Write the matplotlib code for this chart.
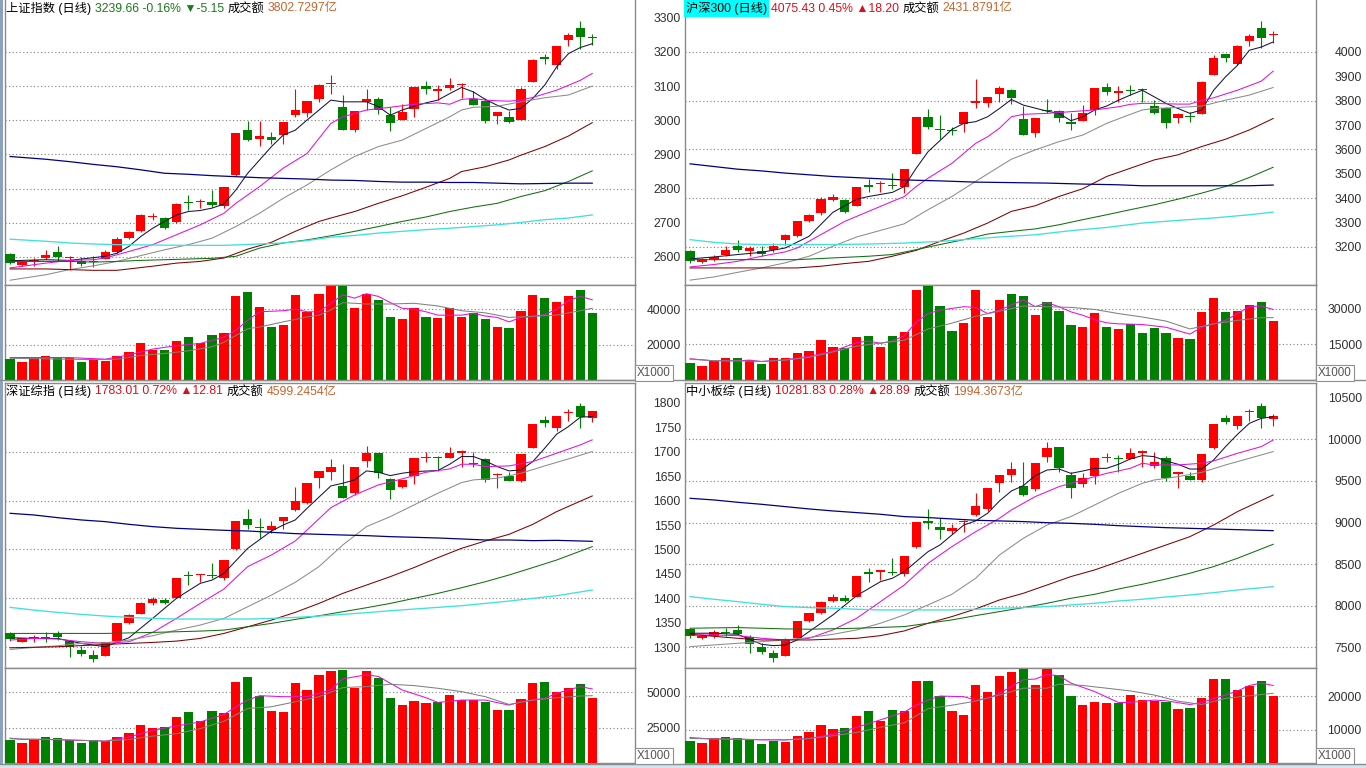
import matplotlib.pyplot as plt
import numpy as np
from matplotlib.lines import Line2D
from matplotlib.patches import Rectangle

W, H = 1366, 768
RED = '#ff0000'
GREEN = '#008000'
TXT_RED = '#d8101c'
TXT_GREEN = '#1a7a1a'
TXT_ORANGE = '#c8642c'
FONT = ['Liberation Sans', 'Noto Sans CJK SC', 'DejaVu Sans']

# ---------------- 上证指数 ----------------
sh_open = [2609, 2577, 2588, 2597, 2616, 2597, 2589, 2586, 2595, 2616,
           2657, 2677, 2717, 2714, 2702, 2762, 2760, 2761, 2750, 2841,
           2971, 2944, 2951, 2956, 3015, 3021, 3061, 3106, 3038, 2971,
           3053, 3062, 3015, 3001, 3032, 3100, 3087, 3095, 3103, 3061,
           3057, 3014, 3010, 3001, 3112, 3184, 3161, 3236, 3271, 3243]
sh_close = [2582, 2585, 2590, 2605, 2599, 2600, 2579, 2588, 2616, 2654,
            2673, 2723, 2720, 2684, 2755, 2757, 2762, 2753, 2805, 2962,
            2942, 2954, 2942, 2995, 3030, 3056, 3103, 3108, 2973, 3027,
            3061, 3030, 2993, 3023, 3096, 3093, 3091, 3102, 3105, 3044,
            2999, 3023, 2996, 3092, 3176, 3180, 3217, 3251, 3244.8, 3239.66]
sh_high = [2612, 2589, 2598, 2619, 2631, 2602, 2600, 2603, 2621, 2657,
           2676, 2727, 2728, 2718, 2757, 2782, 2769, 2796, 2806, 2962,
           2999, 2999, 2967, 2995, 3092, 3056, 3106, 3132, 3074, 3027,
           3093, 3067, 3038, 3047, 3096, 3114, 3103, 3125, 3110, 3086,
           3064, 3023, 3028, 3096, 3178, 3195, 3217, 3254, 3290, 3252]
sh_low = [2578, 2573, 2573, 2594, 2587, 2561, 2573, 2570, 2594, 2613,
          2654, 2673, 2709, 2681, 2700, 2738, 2743, 2746, 2743, 2838,
          2939, 2926, 2931, 2931, 3010, 3010, 3054, 3076, 2973, 2967,
          3030, 3018, 2969, 3001, 3010, 3076, 3059, 3090, 3064, 3044,
          2991, 2989, 2993, 3001, 3112, 3166, 3151, 3218, 3210, 3219]
sh_vol = [12100, 10400, 12300, 13500, 12700, 12700, 10200, 12100, 10800, 13700,
          15600, 20700, 17100, 17100, 22300, 24600, 20700, 25200, 26500, 47300,
          49600, 41500, 30000, 31300, 48200, 38300, 48800, 53000, 53000, 40700,
          48800, 45400, 35700, 34400, 40600, 35700, 35200, 40600, 35700, 38000,
          34400, 29800, 29200, 39000, 48200, 46500, 44200, 47700, 51100, 37900]
sh_ma5 = [(0, 2589), (3, 2592), (5, 2590), (8, 2602), (9, 2611), (10, 2631), (11, 2660),
          (12, 2684), (13, 2704), (14, 2723), (15, 2733), (16, 2736), (17, 2743), (18, 2755),
          (19, 2796), (20, 2845), (21, 2884), (22, 2923), (23, 2957), (24, 2971), (25, 3001),
          (26, 3030), (27, 3059), (28, 3054), (30, 3054), (31, 3040), (32, 3015), (33, 3030),
          (34, 3041), (35, 3051), (36, 3059), (37, 3078), (38, 3096), (39, 3083), (40, 3061),
          (41, 3044), (42, 3030), (43, 3035), (44, 3064), (45, 3103), (46, 3156), (47, 3195),
          (48, 3213), (49, 3224)]
sh_ma10 = [(0, 2568), (3, 2582), (5, 2590), (7, 2592), (8, 2597), (10, 2616), (12, 2636),
           (14, 2665), (16, 2694), (18, 2728), (19, 2757), (21, 2806), (23, 2860), (25, 2903),
           (27, 2991), (28, 3010), (30, 3030), (32, 3038), (34, 3047), (36, 3051), (37, 3047),
           (38, 3061), (39, 3064), (40, 3059), (41, 3057), (42, 3056), (43, 3059), (44, 3067),
           (46, 3088), (48, 3117), (49, 3137)]
sh_ma20 = [(0, 2532), (3, 2548), (5, 2563), (7, 2574), (9, 2587), (11, 2604), (13, 2621),
           (15, 2636), (17, 2655), (19, 2689), (21, 2728), (23, 2772), (25, 2811), (27, 2855),
           (29, 2894), (31, 2923), (33, 2942), (35, 2976), (37, 3010), (38, 3030), (39, 3038),
           (41, 3041), (43, 3054), (45, 3066), (47, 3074), (49, 3100)]
sh_ma60 = [(0, 2565), (3, 2565), (5, 2563), (7, 2561), (9, 2561), (10, 2565), (12, 2573),
           (14, 2582), (16, 2587), (18, 2597), (20, 2623), (22, 2643), (24, 2675), (26, 2704),
           (27, 2714), (29, 2733), (31, 2757), (33, 2779), (35, 2804), (37, 2830), (38, 2850),
           (40, 2864), (42, 2884), (43, 2898), (45, 2923), (47, 2954), (49, 2993)]
sh_ma120 = [(0, 2587), (5, 2587), (7, 2585), (9, 2587), (11, 2590), (13, 2592), (15, 2594),
            (17, 2596), (19, 2602), (21, 2626), (23, 2641), (25, 2650), (27, 2662), (29, 2675),
            (31, 2689), (33, 2704), (35, 2717), (37, 2733), (39, 2746), (41, 2757), (43, 2777),
            (45, 2794), (47, 2821), (49, 2852)]
sh_ma250 = [(0, 2894), (3, 2886), (5, 2879), (7, 2871), (9, 2864), (11, 2855), (13, 2845),
            (15, 2842), (17, 2838), (19, 2835), (21, 2832), (23, 2830), (25, 2828), (27, 2825),
            (29, 2824), (31, 2821), (33, 2819), (35, 2819), (37, 2818), (39, 2818), (41, 2816),
            (43, 2814), (45, 2815), (47, 2816), (49, 2816)]
sh_ma_cyan = [(0, 2652), (3, 2646), (5, 2641), (7, 2638), (9, 2636), (12, 2635), (15, 2634),
              (18, 2634), (21, 2638), (23, 2641), (25, 2648), (27, 2658), (29, 2663), (31, 2670),
              (33, 2675), (35, 2680), (37, 2684), (39, 2689), (41, 2694), (43, 2701), (45, 2709),
              (47, 2714), (49, 2723)]
sh_vma5 = [(0, 12700), (5, 12700), (8, 11760), (10, 14200), (12, 17500), (14, 19400),
           (16, 20700), (18, 24200), (19, 28100), (20, 33800), (21, 38600), (23, 39200),
           (24, 40100), (25, 38600), (26, 38600), (27, 43400), (28, 48200), (29, 46300),
           (30, 48800), (31, 47300), (32, 43800), (33, 40600), (34, 40000), (35, 38600),
           (36, 36700), (38, 36700), (39, 37700), (40, 36200), (41, 35400), (42, 32900),
           (43, 35400), (44, 35700), (45, 37100), (46, 40000), (47, 44900), (48, 47300),
           (49, 45400)]
sh_vma10 = [(0, 12300), (7, 11530), (9, 11760), (11, 13900), (13, 15000), (15, 16500),
            (17, 18800), (18, 21300), (19, 25200), (20, 29000), (21, 30000), (23, 32900),
            (25, 35700), (26, 36700), (27, 39600), (28, 43800), (30, 43000), (32, 43000),
            (34, 43400), (36, 41900), (38, 39200), (40, 38000), (42, 35400), (44, 36100),
            (46, 36700), (48, 39200), (49, 40600)]

# ---------------- 沪深300 ----------------
hs_open = [3185, 3137, 3148, 3169, 3206, 3182, 3185, 3186, 3227, 3244,
           3305, 3339, 3394, 3394, 3370, 3455, 3460, 3453, 3448, 3580,
           3734, 3684, 3679, 3703, 3789, 3789, 3827, 3843, 3723, 3669,
           3760, 3757, 3714, 3718, 3762, 3857, 3830, 3842, 3846, 3778,
           3768, 3730, 3736, 3744, 3907, 3990, 3950, 4045, 4099, 4069]
hs_close = [3144, 3151, 3159, 3186, 3186, 3197, 3171, 3206, 3249, 3308,
            3332, 3398, 3406, 3342, 3445, 3445, 3462, 3450, 3519, 3732,
            3691, 3681, 3676, 3752, 3800, 3816, 3850, 3813, 3661, 3731,
            3757, 3727, 3704, 3748, 3854, 3836, 3840, 3839, 3843, 3748,
            3707, 3745, 3734, 3877, 3977, 3975, 4023, 4064, 4057.2, 4075.43]
hs_high = [3189, 3155, 3169, 3203, 3227, 3203, 3203, 3216, 3252, 3308,
           3336, 3404, 3417, 3398, 3445, 3478, 3469, 3503, 3519, 3732,
           3764, 3741, 3693, 3752, 3887, 3816, 3860, 3846, 3778, 3731,
           3805, 3762, 3748, 3782, 3854, 3871, 3860, 3864, 3854, 3802,
           3775, 3748, 3755, 3881, 3986, 3993, 4027, 4075, 4125, 4086]
hs_low = [3135, 3135, 3141, 3165, 3178, 3162, 3165, 3178, 3210, 3240,
          3301, 3332, 3390, 3339, 3370, 3424, 3424, 3437, 3421, 3580,
          3682, 3642, 3659, 3673, 3768, 3775, 3796, 3786, 3661, 3652,
          3748, 3714, 3680, 3718, 3741, 3823, 3796, 3823, 3796, 3745,
          3689, 3707, 3714, 3744, 3907, 3959, 3945, 4023, 4018, 4037]
hs_vol = [7350, 6060, 8080, 9090, 9370, 8220, 6920, 9370, 9230, 11390,
          12110, 16870, 13840, 13550, 18170, 18600, 13990, 18600, 20330, 38070,
          39510, 31150, 20760, 23940, 38070, 26530, 33740, 36340, 35470, 27250,
          33020, 28980, 23360, 22500, 28120, 22500, 21630, 23650, 19900, 21920,
          19900, 17740, 17300, 28700, 34610, 28550, 28980, 31720, 32880, 24660]
hs_ma5 = [(0, 3151), (2, 3159), (4, 3169), (6, 3178), (8, 3196), (10, 3244), (12, 3342),
          (14, 3396), (15, 3407), (17, 3424), (18, 3448), (19, 3523), (20, 3591), (22, 3682),
          (23, 3707), (24, 3714), (25, 3734), (26, 3768), (27, 3805), (28, 3782), (30, 3757),
          (31, 3748), (32, 3718), (33, 3734), (34, 3762), (35, 3778), (36, 3802), (37, 3823),
          (38, 3843), (39, 3816), (40, 3789), (41, 3768), (42, 3748), (43, 3762), (44, 3843),
          (45, 3898), (46, 3945), (47, 4007), (48, 4020), (49, 4041)]
hs_ma10 = [(0, 3118), (2, 3128), (4, 3141), (6, 3162), (8, 3180), (9, 3196), (11, 3251),
           (13, 3305), (15, 3346), (17, 3387), (18, 3407), (19, 3448), (20, 3482), (22, 3543),
           (23, 3584), (24, 3625), (25, 3652), (26, 3687), (27, 3734), (28, 3744), (30, 3748),
           (32, 3755), (34, 3762), (36, 3775), (37, 3785), (38, 3789), (39, 3789), (41, 3786),
           (42, 3786), (43, 3802), (44, 3812), (46, 3843), (48, 3880), (49, 3921)]
hs_ma20 = [(0, 3064), (2, 3077), (4, 3096), (6, 3114), (8, 3135), (10, 3162), (12, 3203),
           (14, 3241), (16, 3268), (18, 3295), (20, 3353), (22, 3407), (24, 3469), (26, 3530),
           (27, 3560), (29, 3598), (31, 3632), (33, 3659), (35, 3707), (37, 3744), (38, 3762),
           (39, 3768), (41, 3772), (43, 3778), (45, 3802), (47, 3823), (49, 3854)]
hs_ma60 = [(0, 3114), (9, 3114), (11, 3121), (13, 3132), (15, 3141), (17, 3162), (19, 3186),
           (21, 3223), (23, 3257), (25, 3298), (27, 3346), (29, 3369), (31, 3407), (33, 3439),
           (35, 3489), (37, 3523), (39, 3557), (41, 3578), (43, 3612), (45, 3642), (47, 3680),
           (49, 3727)]
hs_ma120 = [(0, 3148), (9, 3148), (12, 3155), (15, 3162), (17, 3169), (19, 3189), (21, 3210),
            (23, 3230), (25, 3253), (27, 3264), (29, 3274), (31, 3291), (33, 3312), (35, 3332),
            (37, 3353), (39, 3373), (41, 3396), (43, 3421), (45, 3448), (47, 3485), (49, 3527)]
hs_ma250 = [(0, 3541), (2, 3530), (4, 3519), (6, 3512), (8, 3503), (10, 3496), (12, 3489),
            (15, 3482), (18, 3475), (21, 3471), (24, 3466), (27, 3464), (30, 3462), (33, 3458),
            (36, 3455), (38, 3451), (41, 3451), (44, 3451), (47, 3451), (49, 3454)]
hs_ma_cyan = [(0, 3230), (2, 3219), (4, 3212), (6, 3210), (12, 3210), (15, 3212), (18, 3216),
              (21, 3223), (23, 3230), (26, 3241), (29, 3250), (32, 3267), (35, 3280), (38, 3298),
              (41, 3309), (44, 3319), (47, 3332), (49, 3343)]
hs_vma5 = [(0, 8940), (2, 8080), (4, 8080), (5, 8370), (6, 7790), (8, 8510), (10, 9950),
           (12, 12110), (14, 15720), (15, 16440), (16, 15430), (17, 16440), (18, 18600),
           (19, 24370), (20, 27970), (21, 29420), (23, 30860), (24, 30570), (25, 27970),
           (26, 29420), (28, 33740), (29, 30860), (30, 32590), (31, 30860), (32, 28700),
           (33, 27250), (34, 25380), (35, 24080), (36, 23650), (38, 23360), (40, 22210),
           (42, 19320), (43, 22210), (45, 25090), (46, 27970), (47, 30860), (48, 31150),
           (49, 29700)]
hs_vma10 = [(0, 8800), (2, 8080), (4, 8080), (6, 7790), (8, 8370), (10, 9520), (12, 11820),
            (14, 14280), (16, 15570), (18, 16730), (20, 21490), (22, 23940), (24, 26820),
            (26, 28980), (28, 31150), (30, 30860), (32, 30570), (34, 29700), (36, 27970),
            (38, 26530), (40, 24800), (42, 21490), (44, 23650), (46, 25090), (48, 26240),
            (49, 26240)]

# ---------------- 深证综指 ----------------
sz_open = [1328.6, 1311.6, 1318.4, 1321.8, 1326.6, 1313.6, 1294.5, 1284.3, 1282.9, 1313.0,
           1350.4, 1368.9, 1390.6, 1396.1, 1401.5, 1448.5, 1447.9, 1447.9, 1441.0, 1501.0,
           1561.7, 1546.7, 1540.5, 1558.9, 1580.7, 1594.4, 1645.5, 1659.1, 1630.5, 1614.8,
           1680.9, 1696.6, 1643.4, 1628.4, 1650.9, 1687.7, 1687.7, 1687.7, 1698.0, 1674.1,
           1685.0, 1652.3, 1650.9, 1640.0, 1708.2, 1764.7, 1749.0, 1778.4, 1793.4, 1769.5]
sz_close = [1316.4, 1318.4, 1320.4, 1319.8, 1320.4, 1301.4, 1285.7, 1276.1, 1310.2, 1349.7,
            1366.0, 1389.9, 1398.0, 1390.6, 1441.0, 1445.1, 1449.9, 1445.8, 1477.8, 1558.3,
            1550.1, 1543.3, 1547.4, 1565.7, 1599.1, 1635.3, 1660.5, 1669.3, 1606.0, 1669.3,
            1696.6, 1655.7, 1621.6, 1642.1, 1686.4, 1689.8, 1686.4, 1696.6, 1701.4, 1676.1,
            1642.1, 1654.3, 1640.7, 1694.5, 1755.9, 1759.3, 1772.9, 1781.8, 1770.2, 1783.01]
sz_high = [1330.7, 1319.8, 1325.0, 1330.7, 1334.0, 1315.0, 1303.4, 1293.9, 1310.2, 1349.7,
           1367.5, 1392.0, 1403.6, 1400.2, 1441.0, 1456.7, 1449.9, 1471.7, 1477.8, 1558.3,
           1582.1, 1563.7, 1558.3, 1565.7, 1628.4, 1635.3, 1660.5, 1685.0, 1674.1, 1669.3,
           1711.6, 1696.6, 1645.5, 1642.1, 1686.4, 1698.6, 1690.0, 1710.2, 1703.4, 1700.0,
           1687.7, 1655.7, 1657.7, 1694.5, 1755.9, 1771.6, 1772.9, 1786.5, 1798.8, 1783.1]
sz_low = [1313.0, 1310.2, 1311.6, 1311.6, 1315.0, 1281.0, 1283.0, 1269.4, 1282.9, 1311.6,
          1347.0, 1367.5, 1386.5, 1388.6, 1401.5, 1427.4, 1432.9, 1441.0, 1437.6, 1499.0,
          1541.9, 1524.2, 1533.0, 1541.9, 1578.7, 1592.3, 1626.4, 1642.0, 1606.0, 1611.4,
          1669.3, 1646.9, 1603.2, 1625.0, 1633.2, 1678.2, 1660.5, 1686.4, 1669.3, 1669.3,
          1637.3, 1625.0, 1640.7, 1637.3, 1708.2, 1751.1, 1742.2, 1762.7, 1749.0, 1760.0]
sz_vol = [15950, 14050, 15950, 18330, 17620, 16430, 14050, 16430, 15710, 18330,
          20950, 26670, 24760, 25240, 32620, 36190, 29520, 36670, 35710, 57620,
          60950, 47620, 36900, 36190, 56900, 51670, 62380, 64760, 65950, 53330,
          65240, 60480, 46190, 40950, 44050, 42380, 43330, 48100, 44760, 44760,
          43100, 37380, 37380, 45240, 56670, 57620, 50000, 52860, 55950, 45950]
sz_ma5 = [(0, 1319.8), (2, 1318.4), (4, 1318.4), (6, 1308.2), (8, 1301.4), (10, 1319.8),
          (12, 1359.3), (14, 1400.2), (16, 1430.8), (17, 1437.6), (18, 1451.3), (20, 1502.4),
          (22, 1537.8), (23, 1550.1), (24, 1560.3), (25, 1584.2), (27, 1629.8), (28, 1635.3),
          (29, 1642.1), (30, 1660.5), (31, 1657.7), (32, 1650.9), (33, 1655.7), (34, 1659.1),
          (36, 1661.2), (37, 1674.1), (38, 1689.8), (39, 1689.8), (40, 1680.9), (41, 1669.3),
          (42, 1660.5), (43, 1662.5), (44, 1679.6), (45, 1706.8), (46, 1735.4), (47, 1751.1),
          (48, 1770.2), (49, 1771.6)]
sz_ma10 = [(0, 1315.0), (2, 1318.4), (4, 1317.0), (6, 1311.6), (8, 1308.2), (10, 1311.6),
           (12, 1330.7), (14, 1359.3), (16, 1389.9), (18, 1419.3), (20, 1465.1), (22, 1488.8),
           (24, 1517.4), (25, 1539.9), (27, 1585.5), (29, 1611.4), (31, 1631.9), (33, 1644.1),
           (35, 1657.7), (37, 1664.6), (38, 1674.1), (39, 1674.1), (40, 1669.3), (42, 1670.7),
           (44, 1679.6), (46, 1696.6), (48, 1713.6), (49, 1723.9)]
sz_ma20 = [(0, 1295.9), (2, 1300.0), (4, 1303.4), (6, 1308.2), (8, 1309.5), (10, 1315.0),
           (12, 1323.9), (14, 1335.4), (16, 1345.7), (18, 1359.3), (20, 1383.1), (22, 1406.9),
           (24, 1432.9), (26, 1465.1), (28, 1509.2), (30, 1546.7), (32, 1567.1), (34, 1591.0),
           (36, 1614.8), (38, 1636.6), (39, 1642.1), (41, 1645.5), (43, 1655.7), (45, 1670.7),
           (47, 1685.0), (49, 1700.0)]
sz_ma60 = [(0, 1299.3), (4, 1301.4), (8, 1306.1), (10, 1308.2), (12, 1310.2), (14, 1312.9),
           (16, 1318.4), (18, 1328.6), (20, 1342.2), (22, 1355.9), (24, 1371.6), (26, 1389.9),
           (28, 1410.4), (30, 1427.4), (32, 1444.5), (34, 1463.1), (36, 1483.3), (38, 1502.4),
           (40, 1517.4), (42, 1531.0), (44, 1551.4), (46, 1577.3), (49, 1609.4)]
sz_ma120 = [(0, 1328.6), (8, 1328.6), (12, 1330.7), (14, 1332.0), (16, 1333.4), (18, 1335.4),
            (20, 1342.2), (22, 1349.1), (24, 1357.2), (26, 1364.7), (28, 1372.9), (30, 1381.1),
            (32, 1389.9), (34, 1400.2), (36, 1410.4), (38, 1421.9), (40, 1434.2), (42, 1447.9),
            (44, 1463.1), (46, 1478.5), (49, 1505.8)]
sz_ma250 = [(0, 1573.9), (2, 1570.5), (4, 1565.0), (6, 1560.3), (8, 1556.9), (10, 1551.4),
            (12, 1546.7), (14, 1543.3), (16, 1541.2), (18, 1539.2), (20, 1537.8), (22, 1535.1),
            (24, 1532.4), (26, 1531.0), (28, 1529.6), (30, 1528.3), (32, 1526.2), (34, 1524.9),
            (36, 1523.5), (38, 1521.5), (40, 1519.4), (42, 1519.4), (44, 1518.1), (46, 1518.7),
            (49, 1516.7)]
sz_ma_cyan = [(0, 1381.8), (2, 1376.3), (4, 1371.6), (6, 1367.5), (8, 1364.1), (10, 1361.3),
              (12, 1359.3), (14, 1358.0), (20, 1358.0), (22, 1359.3), (24, 1361.3), (26, 1364.1),
              (28, 1367.5), (30, 1370.9), (32, 1375.0), (34, 1378.4), (36, 1381.8), (38, 1385.2),
              (40, 1389.9), (42, 1394.7), (44, 1400.2), (46, 1405.6), (49, 1417.2)]
sz_vma5 = [(0, 17620), (1, 16670), (2, 16670), (4, 16430), (6, 15950), (8, 15480), (10, 18330),
           (12, 23100), (14, 26190), (16, 29050), (18, 34290), (19, 39760), (20, 44520),
           (21, 47620), (23, 46900), (25, 46900), (27, 51670), (28, 59520), (30, 62380),
           (31, 61190), (32, 56430), (33, 51670), (35, 46190), (36, 42860), (38, 44520),
           (40, 44520), (42, 40950), (43, 43330), (45, 45710), (46, 49290), (47, 51670),
           (48, 54050), (49, 52380)]
sz_vma10 = [(0, 17140), (4, 16670), (8, 15480), (10, 16670), (12, 19050), (14, 20710),
            (16, 24290), (18, 29520), (20, 38570), (22, 39760), (24, 43330), (26, 46900),
            (28, 53330), (30, 54050), (32, 55710), (34, 54760), (36, 52860), (38, 50480),
            (40, 46900), (42, 41430), (44, 44520), (46, 46190), (48, 47380), (49, 47620)]

# ---------------- 中小板综 ----------------
zx_open = [7721, 7608, 7640, 7689, 7709, 7628, 7504, 7428, 7400, 7616,
           7817, 7909, 8057, 8089, 8109, 8402, 8410, 8410, 8378, 8710,
           9019, 8950, 8898, 9003, 9091, 9163, 9471, 9571, 9439, 9403,
           9792, 9904, 9571, 9459, 9563, 9780, 9780, 9764, 9832, 9684,
           9780, 9587, 9563, 9511, 9892, 10252, 10164, 10324, 10405, 10240]
zx_close = [7641, 7640, 7681, 7669, 7656, 7544, 7440, 7368, 7600, 7817,
            7909, 8049, 8109, 8057, 8362, 8382, 8430, 8398, 8598, 9011,
            8990, 8910, 8938, 9019, 9203, 9411, 9571, 9643, 9331, 9712,
            9900, 9660, 9411, 9531, 9772, 9792, 9764, 9832, 9864, 9724,
            9531, 9603, 9511, 9820, 10180, 10212, 10284, 10340, 10253, 10281.83]
zx_high = [7737, 7656, 7705, 7729, 7769, 7648, 7548, 7468, 7608, 7817,
           7917, 8057, 8137, 8129, 8362, 8458, 8430, 8570, 8598, 9011,
           9163, 9051, 8978, 9031, 9351, 9411, 9571, 9724, 9724, 9712,
           9972, 9904, 9611, 9591, 9772, 9840, 9812, 9900, 9872, 9852,
           9804, 9603, 9603, 9820, 10180, 10292, 10284, 10364, 10433, 10300]
zx_low = [7608, 7600, 7608, 7640, 7648, 7428, 7416, 7320, 7400, 7600,
          7809, 7897, 8041, 8049, 8109, 8289, 8310, 8370, 8362, 8698,
          8922, 8802, 8858, 8890, 9083, 9139, 9363, 9491, 9323, 9379,
          9724, 9611, 9299, 9431, 9459, 9724, 9603, 9764, 9671, 9651,
          9499, 9419, 9511, 9483, 9884, 10180, 10124, 10220, 10140, 10164]
zx_vol = [6630, 6120, 7550, 7850, 7550, 7040, 5810, 6730, 6430, 7960,
          9180, 11530, 10100, 10610, 14080, 15500, 12750, 15810, 15500, 24480,
          24480, 19990, 15500, 14280, 23260, 21420, 26210, 27230, 28150, 23260,
          28150, 26520, 19990, 17340, 18260, 17950, 17950, 20400, 18870, 18560,
          18260, 16120, 16520, 19480, 25300, 25300, 21930, 23150, 24680, 20090]
zx_ma5 = [(0, 7669), (2, 7669), (4, 7656), (6, 7536), (7, 7520), (8, 7528), (9, 7588),
          (10, 7689), (12, 7889), (14, 8121), (16, 8289), (17, 8330), (18, 8410), (19, 8530),
          (20, 8650), (21, 8730), (23, 8970), (24, 9019), (25, 9111), (26, 9259), (27, 9379),
          (28, 9443), (29, 9563), (30, 9631), (31, 9643), (32, 9591), (33, 9619), (34, 9651),
          (35, 9651), (36, 9700), (37, 9764), (38, 9804), (39, 9792), (40, 9740), (41, 9700),
          (42, 9643), (43, 9643), (44, 9752), (45, 9912), (46, 10060), (47, 10192),
          (48, 10252), (49, 10272)]
zx_ma10 = [(0, 7648), (2, 7648), (4, 7640), (6, 7608), (8, 7588), (10, 7608), (12, 7709),
           (14, 7849), (16, 8049), (18, 8249), (20, 8510), (22, 8710), (24, 8890), (26, 9051),
           (27, 9151), (29, 9311), (31, 9431), (33, 9511), (35, 9591), (37, 9651), (38, 9712),
           (39, 9692), (41, 9692), (43, 9712), (44, 9740), (46, 9832), (48, 9912), (49, 9992)]
zx_ma20 = [(0, 7508), (2, 7528), (4, 7548), (6, 7568), (8, 7588), (10, 7617), (12, 7656),
           (14, 7709), (16, 7789), (18, 7889), (20, 8009), (22, 8137), (24, 8330), (26, 8610),
           (28, 8810), (30, 8970), (32, 9071), (34, 9211), (36, 9351), (38, 9471), (39, 9511),
           (41, 9551), (43, 9603), (45, 9692), (47, 9772), (49, 9852)]
zx_ma60 = [(0, 7656), (4, 7608), (6, 7588), (10, 7588), (14, 7608), (16, 7640), (18, 7697),
           (20, 7789), (22, 7869), (24, 7961), (26, 8069), (28, 8149), (30, 8249), (32, 8350),
           (34, 8430), (36, 8530), (38, 8630), (40, 8730), (42, 8830), (44, 8970), (46, 9131),
           (49, 9331)]
zx_ma120 = [(0, 7729), (4, 7737), (6, 7729), (8, 7721), (10, 7717), (14, 7729), (18, 7749),
            (20, 7789), (22, 7829), (24, 7881), (26, 7929), (28, 7977), (30, 8029), (32, 8089),
            (34, 8137), (36, 8201), (38, 8257), (40, 8321), (42, 8390), (44, 8470), (46, 8570),
            (49, 8738)]
zx_ma250 = [(0, 9291), (2, 9271), (4, 9243), (6, 9219), (8, 9191), (10, 9163), (12, 9139),
            (14, 9119), (16, 9099), (18, 9071), (20, 9059), (22, 9043), (24, 9027), (26, 9019),
            (28, 9011), (30, 8998), (32, 8990), (34, 8978), (36, 8962), (38, 8950), (40, 8938),
            (42, 8930), (44, 8922), (46, 8914), (49, 8902)]
zx_ma_cyan = [(0, 8109), (2, 8077), (4, 8049), (6, 8017), (8, 7989), (10, 7977), (12, 7969),
              (14, 7957), (16, 7949), (22, 7949), (24, 7957), (26, 7969), (28, 7977), (30, 7989),
              (32, 8009), (34, 8029), (36, 8057), (38, 8077), (40, 8105), (42, 8129), (44, 8157),
              (46, 8189), (49, 8229)]
zx_vma5 = [(0, 7650), (2, 7140), (4, 7140), (6, 6940), (8, 6940), (10, 7340), (12, 8670),
           (14, 10710), (16, 12950), (18, 15300), (19, 17340), (20, 18870), (21, 20090),
           (23, 19890), (24, 18870), (25, 19380), (26, 20910), (28, 24990), (29, 25190),
           (30, 26520), (31, 26210), (32, 23970), (34, 21420), (36, 18160), (37, 18160),
           (39, 18870), (40, 18670), (42, 17540), (43, 18160), (45, 20400), (46, 21620),
           (47, 23260), (48, 23970), (49, 23260)]
zx_vma10 = [(0, 7340), (4, 7140), (8, 6940), (10, 7340), (12, 8160), (14, 9180), (16, 10710),
            (18, 12040), (20, 16320), (22, 17340), (24, 18560), (26, 20400), (28, 22440),
            (30, 22440), (31, 23660), (33, 23260), (35, 22440), (37, 21620), (39, 20400),
            (41, 18560), (43, 17540), (45, 19380), (47, 20200), (49, 20910)]

# titles
sh_title = [('上证指数 (日线)', 'black'), ('3239.66 -0.16% ▼-5.15', TXT_GREEN),
            ('成交额', 'black'), ('3802.7297亿', TXT_ORANGE)]
hs_title = [('沪深300 (日线)', 'black'), ('4075.43 0.45% ▲18.20', TXT_RED),
            ('成交额', 'black'), ('2431.8791亿', TXT_ORANGE)]
sz_title = [('深证综指 (日线)', 'black'), ('1783.01 0.72% ▲12.81', TXT_RED),
            ('成交额', 'black'), ('4599.2454亿', TXT_ORANGE)]
zx_title = [('中小板综 (日线)', 'black'), ('10281.83 0.28% ▲28.89', TXT_RED),
            ('成交额', 'black'), ('1994.3673亿', TXT_ORANGE)]

# axis settings: (price ylim, price ticks, price grid, vol ylim, vol ticks)
panels = [
    dict(box=(5, 0, 635), ohlc=(sh_open, sh_high, sh_low, sh_close), vol=sh_vol,
         mas=(sh_ma5, sh_ma10, sh_ma20, sh_ma60, sh_ma120, sh_ma250, sh_ma_cyan),
         vmas=(sh_vma5, sh_vma10), title=sh_title, bg=None,
         ylim=(2518, 3352), ticks=list(range(2600, 3301, 100)), grid=list(range(2600, 3201, 100)),
         vlim=53750, vticks=[20000, 40000]),
    dict(box=(685, 0, 1316), ohlc=(hs_open, hs_high, hs_low, hs_close), vol=hs_vol,
         mas=(hs_ma5, hs_ma10, hs_ma20, hs_ma60, hs_ma120, hs_ma250, hs_ma_cyan),
         vmas=(hs_vma5, hs_vma10), title=hs_title, bg='#00ffff',
         ylim=(3044, 4213), ticks=list(range(3200, 4001, 100)), grid=list(range(3200, 4001, 200)),
         vlim=40000, vticks=[15000, 30000]),
    dict(box=(5, 383, 635), ohlc=(sz_open, sz_high, sz_low, sz_close), vol=sz_vol,
         mas=(sz_ma5, sz_ma10, sz_ma20, sz_ma60, sz_ma120, sz_ma250, sz_ma_cyan),
         vmas=(sz_vma5, sz_vma10), title=sz_title, bg=None,
         ylim=(1258, 1840), ticks=list(range(1300, 1801, 50)), grid=list(range(1300, 1701, 100)),
         vlim=67200, vticks=[25000, 50000]),
    dict(box=(685, 383, 1316), ohlc=(zx_open, zx_high, zx_low, zx_close), vol=zx_vol,
         mas=(zx_ma5, zx_ma10, zx_ma20, zx_ma60, zx_ma120, zx_ma250, zx_ma_cyan),
         vmas=(zx_vma5, zx_vma10), title=zx_title, bg=None,
         ylim=(7251, 10677), ticks=list(range(7500, 10501, 500)), grid=list(range(7500, 10001, 500)),
         vlim=28500, vticks=[10000, 20000]),
]

MA_STYLE = [('#141440', 0.75), ('#e010e0', 0.75), ('#8c8c8c', 0.75), ('#800000', 0.75),
            ('#107010', 0.75), ('#000080', 0.9), ('#40e0e0', 0.95)]
VMA_STYLE = [('#e010e0', 0.75), ('#808080', 0.75)]
PRICE_H, VOL_H = 285, 95


def px_axes(fig, x0, y0, x1, y1):
    return fig.add_axes([x0 / W, 1 - y1 / H, (x1 - x0) / W, (y1 - y0) / H])


def style_axis(ax, ylim, ticks, grid, show_top=True):
    ax.set_xlim(-0.43, 52.6)
    ax.set_ylim(*ylim)
    ax.set_xticks([])
    ax.yaxis.tick_right()
    ax.set_yticks(ticks)
    ax.set_yticklabels([str(t) for t in ticks])
    ax.tick_params(axis='y', length=0, pad=33, labelsize=8.7, labelcolor='#303030')
    for lab in ax.get_yticklabels():
        lab.set_horizontalalignment('right')
        lab.set_fontfamily(FONT)
    for g in grid:
        ax.axhline(g, color='#808080', lw=0.8, ls=(0, (1, 2.2)), zorder=0)
    for s in ax.spines.values():
        s.set_color('#8a8a8a')
        s.set_linewidth(1)
    ax.spines['top'].set_visible(show_top)
    ax.set_facecolor('white')


def draw_lines(ax, series, styles):
    for pts, (col, lw) in zip(series, styles):
        xs, ys = zip(*pts)
        ax.plot(xs, ys, color=col, lw=lw, zorder=4, solid_joinstyle='round')


fig = plt.figure(figsize=(W / 100, H / 100), dpi=100)
fig.patch.set_facecolor('white')

for p in panels:
    x0, y0, x1 = p['box']
    o, h, l, c = (np.array(a, dtype=float) for a in p['ohlc'])
    idx = np.arange(len(o))
    cols = np.where(c >= o, RED, GREEN)

    ax = px_axes(fig, x0, y0, x1, y0 + PRICE_H)
    style_axis(ax, p['ylim'], p['ticks'], p['grid'], show_top=(y0 > 0))
    one_px = (p['ylim'][1] - p['ylim'][0]) / PRICE_H
    ax.vlines(idx, l, h, colors=cols, lw=0.8, zorder=2)
    ax.bar(idx, np.maximum(np.abs(c - o), one_px), bottom=np.minimum(o, c),
           width=0.78, color=cols, lw=0, zorder=3)
    draw_lines(ax, p['mas'], MA_STYLE)

    vax = px_axes(fig, x0, y0 + PRICE_H, x1, y0 + PRICE_H + VOL_H)
    style_axis(vax, (0, p['vlim']), p['vticks'], p['vticks'])
    vax.bar(idx, p['vol'], width=0.78, color=cols, lw=0, zorder=3)
    draw_lines(vax, p['vmas'], VMA_STYLE)

    # title line, segments chained one after another
    txt, col = p['title'][0]
    t = fig.text((x0 + 1) / W, 1 - (y0 + 8.5) / H, txt, color=col, fontsize=8.8,
                 family=FONT, va='center', ha='left', zorder=10)
    if p['bg']:
        t.set_bbox(dict(facecolor=p['bg'], edgecolor='none', pad=1.2))
    for txt, col in p['title'][1:]:
        t = ax.annotate(txt, xy=(1, 0.5), xycoords=t, xytext=(2.6, 0),
                        textcoords='offset points', color=col, fontsize=8.8,
                        family=FONT, va='center', ha='left', zorder=10)

    # X1000 unit box under the volume scale
    fig.text((x1 + 19) / W, 1 - (y0 + PRICE_H + VOL_H - 7) / H, 'X1000', fontsize=8.4,
             family=FONT, color='#555555', ha='center', va='center',
             bbox=dict(boxstyle='square,pad=0.2', fc='white', ec='#909090', lw=0.8))

# separators between the two rows and window edges
for yy in (380.5, 763.5):
    fig.add_artist(Line2D([0, 1], [1 - yy / H] * 2, color='#8a8a8a', lw=1))
fig.add_artist(Rectangle((0, 0), 3 / W, 1, transform=fig.transFigure,
                         facecolor='#8aa2bc', edgecolor='none'))
fig.add_artist(Rectangle((0, 0), 1, 4 / H, transform=fig.transFigure,
                         facecolor='#d4e4f2', edgecolor='none'))

fig.savefig('out.png', dpi=100)
